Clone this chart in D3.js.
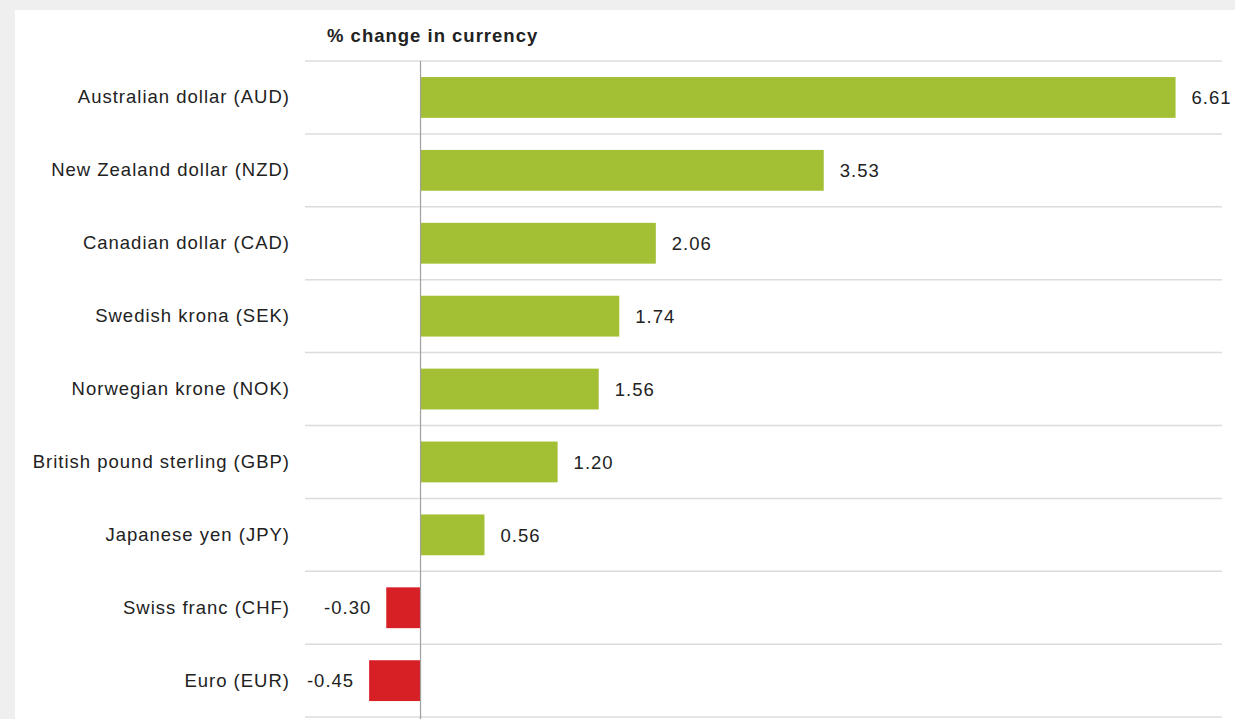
<!DOCTYPE html>
<html>
<head>
<meta charset="utf-8">
<script src="https://cdn.jsdelivr.net/npm/d3@7"></script>
<style>
  html, body { margin: 0; padding: 0; background: #efefef; }
  svg { display: block; }
</style>
</head>
<body>
<svg id="chart" width="1235" height="719"></svg>
<script>
const categories = [
  "Australian dollar (AUD)",
  "New Zealand dollar (NZD)",
  "Canadian dollar (CAD)",
  "Swedish krona (SEK)",
  "Norwegian krone (NOK)",
  "British pound sterling (GBP)",
  "Japanese yen (JPY)",
  "Swiss franc (CHF)",
  "Euro (EUR)"
];
const values = [6.61, 3.53, 2.06, 1.74, 1.56, 1.20, 0.56, -0.30, -0.45];
const valueLabels = ["6.61", "3.53", "2.06", "1.74", "1.56", "1.20", "0.56", "-0.30", "-0.45"];
const title = "% change in currency";

const svg = d3.select("#chart");
const W = 1235, H = 719;

// white panel
svg.append("rect").attr("x", 15).attr("y", 10).attr("width", W - 15).attr("height", H - 10).attr("fill", "#ffffff");

const x = d3.scaleLinear().domain([-1, 7]).range([306.3, 1220.1]);
const y = d3.scaleBand().domain(categories).range([61, 717.1]).paddingInner(0.44).paddingOuter(0.22);
const step = y.step();

const gridLeft = 305, gridRight = 1222;
const font = "'Liberation Sans', Arial, sans-serif";
const fs = 18.5, ls = 1;

// gridlines at band boundaries
const bounds = d3.range(categories.length + 1).map(i => 61 + i * step);
svg.append("g").selectAll("line").data(bounds).join("line")
  .attr("x1", gridLeft).attr("x2", gridRight)
  .attr("y1", d => d).attr("y2", d => d)
  .attr("stroke", "#dcdcdc").attr("stroke-width", 1.5);

// bars
svg.append("g").selectAll("rect").data(values).join("rect")
  .attr("x", d => x(Math.min(0, d)))
  .attr("width", d => Math.abs(x(d) - x(0)))
  .attr("y", (d, i) => y(categories[i]))
  .attr("height", y.bandwidth())
  .attr("fill", d => d >= 0 ? "#a3c035" : "#d71f26");

// zero line
svg.append("line")
  .attr("x1", x(0)).attr("x2", x(0))
  .attr("y1", 61).attr("y2", H)
  .attr("stroke", "#a0a0a0").attr("stroke-width", 1.2);

// value labels
svg.append("g").selectAll("text").data(values).join("text")
  .attr("x", d => d >= 0 ? x(d) + 16 : x(d) - 15)
  .attr("y", (d, i) => y(categories[i]) + y.bandwidth() / 2)
  .attr("dy", "0.36em")
  .attr("text-anchor", d => d >= 0 ? "start" : "end")
  .attr("font-family", font).attr("font-size", fs).attr("letter-spacing", ls).attr("fill", "#222")
  .text((d, i) => valueLabels[i]);

// category labels
const yAxis = d3.axisLeft(y).tickSize(0).tickPadding(0);
const ga = svg.append("g").attr("transform", "translate(290,0)").call(yAxis);
ga.select(".domain").remove();
ga.selectAll("text")
  .attr("font-family", font).attr("font-size", fs).attr("letter-spacing", ls).attr("fill", "#222");

// title
svg.append("text")
  .attr("x", 327).attr("y", 42)
  .attr("font-family", font).attr("font-size", fs).attr("letter-spacing", ls).attr("font-weight", "bold").attr("fill", "#222")
  .text(title);
</script>
</body>
</html>
